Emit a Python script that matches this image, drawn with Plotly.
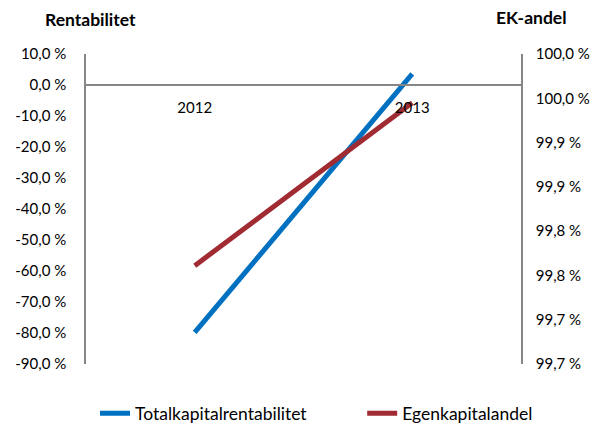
import plotly.graph_objects as go

categories = ["2012", "2013"]
totalkapital = [-79.8, 3.6]          # % (left axis)
egenkapital = [99.761, 99.945]       # % (right axis)

left_tickvals = [10, 0, -10, -20, -30, -40, -50, -60, -70, -80, -90]
left_ticktext = ["10,0 %", "0,0 %", "-10,0 %", "-20,0 %", "-30,0 %", "-40,0 %", "-50,0 %",
                 "-60,0 %", "-70,0 %", "-80,0 %", "-90,0 %"]
right_tickvals = [99.65, 99.70, 99.75, 99.80, 99.85, 99.90, 99.95, 100.00]
right_ticktext = ["99,7 %", "99,7 %", "99,8 %", "99,8 %", "99,9 %", "99,9 %", "100,0 %", "100,0 %"]

FONT = "Lato"
AX = "#868686"

L, R, T, B = 86, 520.7, 53.5, 364.5
PW, PH = R - L, B - T

fig = go.Figure()
fig.add_trace(go.Scatter(x=categories, y=totalkapital, name="Totalkapitalrentabilitet",
                         mode="lines", line=dict(color="#0070C0", width=5), yaxis="y",
                         legend="legend"))
fig.add_trace(go.Scatter(x=categories, y=egenkapital, name="Egenkapitalandel",
                         mode="lines", line=dict(color="#A02B33", width=5), yaxis="y2",
                         legend="legend2"))

legend_common = dict(orientation="h", xanchor="left", yanchor="middle",
                     font=dict(size=17.5), bgcolor="rgba(0,0,0,0)")

fig.update_layout(
    width=612, height=428,
    margin=dict(l=L, r=612 - R, t=T, b=428 - B, autoexpand=False),
    paper_bgcolor="white", plot_bgcolor="white",
    font=dict(family=FONT, size=15, color="black"),
    showlegend=True,
    legend=dict(x=(95 - L) / PW, y=(B - 414) / PH, **legend_common),
    legend2=dict(x=(362 - L) / PW, y=(B - 414) / PH, **legend_common),
    xaxis=dict(type="category", range=[-0.5, 1.5], showline=True, linecolor=AX, linewidth=1.5,
               anchor="free", position=0.9, showgrid=False, zeroline=False, ticks="",
               ticklabelstandoff=9, automargin=False),
    yaxis=dict(range=[-90, 10], tickvals=left_tickvals, ticktext=left_ticktext,
               showline=True, linecolor=AX, linewidth=1.5, showgrid=False, zeroline=False,
               ticks="", ticklabelstandoff=15, automargin=False),
    yaxis2=dict(range=[99.65, 100.0], overlaying="y", side="right", anchor="x",
                tickvals=right_tickvals, ticktext=right_ticktext,
                showline=True, linecolor=AX, linewidth=1.5, showgrid=False, zeroline=False,
                ticks="", ticklabelstandoff=10, automargin=False),
    annotations=[
        dict(text="<b>Rentabilitet</b>", xref="paper", yref="paper", x=(90 - L) / PW,
             y=(B - 19) / PH, xanchor="center", yanchor="middle", showarrow=False,
             font=dict(size=17.5)),
        dict(text="<b>EK-andel</b>", xref="paper", yref="paper", x=(531 - L) / PW,
             y=(B - 17) / PH, xanchor="center", yanchor="middle", showarrow=False,
             font=dict(size=17.5)),
    ],
)

fig.write_html("out.html", config={"displayModeBar": False},
               post_script="document.body.style.margin='0';")
